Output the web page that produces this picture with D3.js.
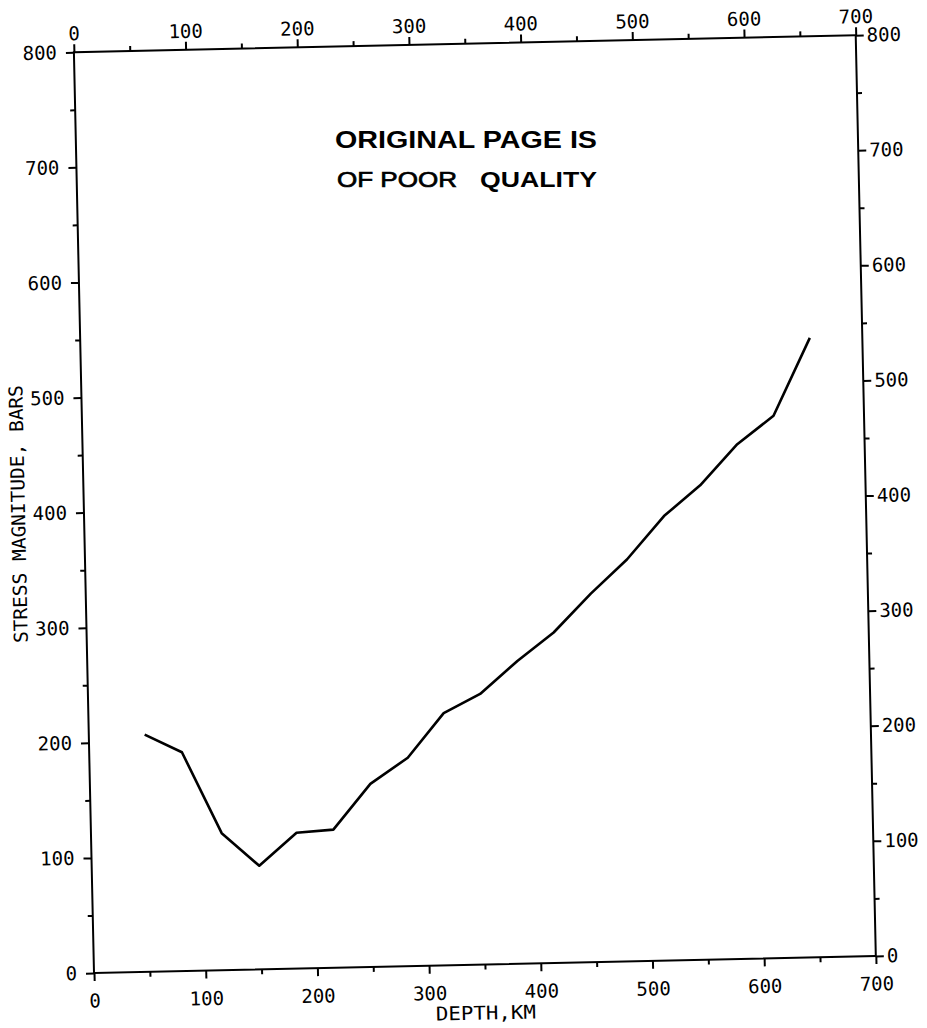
<!DOCTYPE html>
<html>
<head>
<meta charset="utf-8">
<script src="https://cdn.jsdelivr.net/npm/d3@7/dist/d3.min.js"></script>
<style>
  html, body { margin: 0; padding: 0; background: #fff; }
  svg { display: block; }
  .tick text { font-family: "DejaVu Sans Mono", monospace; font-size: 19px; fill: #000; }
  .tick line { stroke: #000; stroke-width: 2; }
</style>
</head>
<body>
<svg id="chart" width="927" height="1028"></svg>
<script>
// Depth (km) and stress magnitude (bars) along the profile
const depthKm    = [50, 83, 117, 150, 184, 217, 251, 285, 318, 351, 385, 418, 452, 485, 519, 552, 586, 619, 653];
const stressBars = [206, 190, 119, 90, 118, 120, 159, 181, 219, 235, 263, 287, 320, 349, 386, 412, 447, 471, 538];

// Axis ticks
const xMajorTicks = [0, 100, 200, 300, 400, 500, 600, 700];
const xMinorTicks = [50, 150, 250, 350, 450, 550, 650];
const yMajorTicks = [0, 100, 200, 300, 400, 500, 600, 700, 800];
const yMinorTicks = [50, 150, 250, 350, 450, 550, 650, 750];

const xTitle = "DEPTH,KM";
const yTitle = "STRESS MAGNITUDE, BARS";
const stampLine1 = "ORIGINAL PAGE IS";
const stampLine2a = "OF POOR";
const stampLine2b = "QUALITY";

const W = 782, H = 921;
const tilt = -1.25;

const svg = d3.select("#chart");
svg.append("rect").attr("width", 927).attr("height", 1028).attr("fill", "#fff");

// Plot frame, slightly tilted on the page
const g = svg.append("g")
  .attr("transform", `translate(94,973) rotate(${tilt}) translate(0,${-H})`);

const x = d3.scaleLinear().domain([0, 700]).range([0, W]);
const y = d3.scaleLinear().domain([0, 800]).range([H, 0]);

function strip(sel) { sel.select(".domain").remove(); }

// Bottom axis
g.append("g").attr("transform", `translate(0,${H})`)
  .call(d3.axisBottom(x).tickValues(xMajorTicks).tickSize(8).tickPadding(13).tickFormat(d3.format("d")))
  .call(strip);
g.append("g").attr("transform", `translate(0,${H})`)
  .call(d3.axisBottom(x).tickValues(xMinorTicks).tickSize(5).tickFormat(""))
  .call(strip);

// Top axis
g.append("g")
  .call(d3.axisTop(x).tickValues(xMajorTicks).tickSize(8).tickPadding(4).tickFormat(d3.format("d")))
  .call(strip);
g.append("g")
  .call(d3.axisTop(x).tickValues(xMinorTicks).tickSize(5).tickFormat(""))
  .call(strip);

// Left axis
g.append("g")
  .call(d3.axisLeft(y).tickValues(yMajorTicks).tickSize(8).tickPadding(9).tickFormat(d3.format("d")))
  .call(strip);
g.append("g")
  .call(d3.axisLeft(y).tickValues(yMinorTicks).tickSize(5).tickFormat(""))
  .call(strip);

// Right axis
g.append("g").attr("transform", `translate(${W},0)`)
  .call(d3.axisRight(y).tickValues(yMajorTicks).tickSize(8).tickPadding(3).tickFormat(d3.format("d")))
  .call(strip);
g.append("g").attr("transform", `translate(${W},0)`)
  .call(d3.axisRight(y).tickValues(yMinorTicks).tickSize(5).tickFormat(""))
  .call(strip);

// Frame
g.append("rect")
  .attr("x", x(0)).attr("y", y(800))
  .attr("width", x(700) - x(0)).attr("height", y(0) - y(800))
  .attr("fill", "none").attr("stroke", "#000").attr("stroke-width", 2);

// Axis titles
g.append("text")
  .attr("x", x(350)).attr("y", H + 55)
  .attr("text-anchor", "middle")
  .attr("font-family", "DejaVu Sans Mono, monospace").attr("font-size", 19)
  .attr("textLength", 100).attr("lengthAdjust", "spacingAndGlyphs")
  .text(xTitle);

g.append("text")
  .attr("transform", `translate(-59,${y(400)}) rotate(-90)`)
  .attr("text-anchor", "middle")
  .attr("font-family", "DejaVu Sans Mono, monospace").attr("font-size", 19)
  .attr("textLength", 258).attr("lengthAdjust", "spacingAndGlyphs")
  .text(yTitle);

// Stress profile
const line = d3.line().x((d, i) => x(depthKm[i])).y(d => y(d));
g.append("path")
  .datum(stressBars)
  .attr("d", line)
  .attr("fill", "none")
  .attr("stroke", "#000")
  .attr("stroke-width", 2.6)
  .attr("stroke-linejoin", "round");

// Stamp
svg.append("text")
  .attr("x", 335).attr("y", 148)
  .attr("font-family", "Liberation Sans, Arial, sans-serif").attr("font-weight", "bold").attr("font-size", 23)
  .attr("textLength", 262).attr("lengthAdjust", "spacingAndGlyphs")
  .text(stampLine1);
svg.append("text")
  .attr("x", 337).attr("y", 187)
  .attr("font-family", "Liberation Sans, Arial, sans-serif").attr("font-size", 22)
  .attr("stroke", "#000").attr("stroke-width", 0.7)
  .attr("textLength", 120).attr("lengthAdjust", "spacingAndGlyphs")
  .text(stampLine2a);
svg.append("text")
  .attr("x", 480).attr("y", 187)
  .attr("font-family", "Liberation Sans, Arial, sans-serif").attr("font-weight", "bold").attr("font-size", 22)
  .attr("textLength", 117).attr("lengthAdjust", "spacingAndGlyphs")
  .text(stampLine2b);
</script>
</body>
</html>
